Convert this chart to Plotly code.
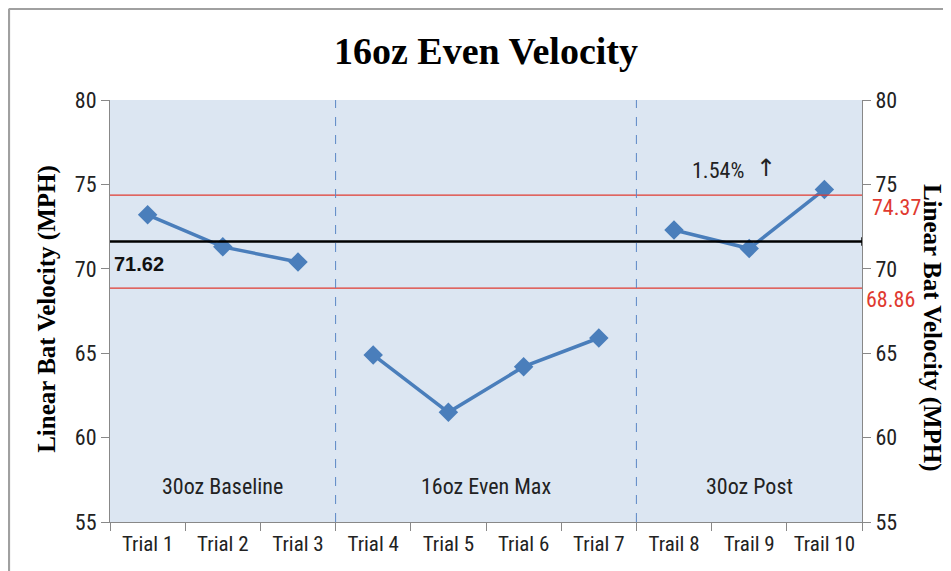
import plotly.graph_objects as go

trials = ["Trial 1", "Trial 2", "Trial 3", "Trial 4", "Trial 5", "Trial 6", "Trial 7",
          "Trail 8", "Trail 9", "Trail 10"]
velocity = [73.2, 71.3, 70.4, 64.9, 61.5, 64.2, 65.9, 72.3, 71.2, 74.7]
phase_names = ["30oz Baseline", "16oz Even Max", "30oz Post"]
phase_sizes = [3, 4, 3]
mean_value = 71.62
upper_limit = 74.37
lower_limit = 68.86
change_pct = "1.54%"

BLUE = "#4a7ebb"
RED = "#e03a30"
NARROW = "Liberation Sans Narrow, Roboto Condensed, Liberation Sans, sans-serif"
XTICKFONT = dict(family=NARROW, size=21, color="#222")
YTICKFONT = dict(family=NARROW, size=22, color="#222")

fig = go.Figure()

start = 0
phase_centers = []
boundaries = []
for size in phase_sizes:
    idx = list(range(start, start + size))
    fig.add_trace(go.Scatter(
        x=[trials[i] for i in idx], y=[velocity[i] for i in idx],
        mode="lines+markers",
        line=dict(color=BLUE, width=3.5),
        marker=dict(symbol="diamond", size=15, color=BLUE),
        showlegend=False, hoverinfo="x+y"))
    phase_centers.append(start + (size - 1) / 2)
    start += size
    boundaries.append(start - 0.5)

n = len(trials)
# mean line with cap on the right (error-bar-like)
fig.add_trace(go.Scatter(
    x=[-0.5, n - 0.5], y=[mean_value, mean_value], mode="lines",
    line=dict(color="black", width=2.5), showlegend=False, hoverinfo="skip",
    xaxis="x2"))
fig.add_trace(go.Scatter(
    x=[n - 0.5, n - 0.5], y=[mean_value - 0.25, mean_value + 0.25],
    mode="lines", line=dict(color="black", width=1.5), showlegend=False,
    hoverinfo="skip", xaxis="x2"))

for lim in (upper_limit, lower_limit):
    fig.add_trace(go.Scatter(
        x=[-0.5, n - 0.5], y=[lim, lim], mode="lines",
        line=dict(color=RED, width=1.2), showlegend=False, hoverinfo="skip",
        xaxis="x2"))

shapes = []
for b in boundaries[:-1]:
    shapes.append(dict(type="line", xref="x2", yref="paper", x0=b, x1=b, y0=0, y1=1,
                       line=dict(color="#5b87c5", width=1, dash="dash")))
# outer border
shapes.append(dict(type="line", xref="paper", yref="paper", x0=-0.1345, x1=1.2,
                   y0=1.2165, y1=1.2165, line=dict(color="#a0a0a0", width=2.5)))
shapes.append(dict(type="line", xref="paper", yref="paper", x0=-0.1345, x1=-0.1345,
                   y0=-0.2, y1=1.2165, line=dict(color="#a0a0a0", width=2.5)))

annotations = []
for name, c in zip(phase_names, phase_centers):
    annotations.append(dict(x=c, y=57.1, xref="x2", yref="y", text=name,
                            showarrow=False, font=dict(family=NARROW, size=22,
                                                       color="#222")))
annotations.append(dict(x=0, y=mean_value, xref="paper", yref="y", text="<b>71.62</b>",
                        showarrow=False, xanchor="left", yanchor="top", xshift=2, yshift=-10,
                        font=dict(family="Liberation Sans, sans-serif", size=20, color="#111")))
annotations.append(dict(x=1, y=upper_limit, xref="paper", yref="y", text=f"{upper_limit:.2f}",
                        showarrow=False, xanchor="left", yanchor="middle", xshift=8,
                        yshift=-12, font=dict(family=NARROW, size=22, color=RED)))
annotations.append(dict(x=1, y=lower_limit, xref="paper", yref="y", text=f"{lower_limit:.2f}",
                        showarrow=False, xanchor="left", yanchor="middle", xshift=2,
                        yshift=-11, font=dict(family=NARROW, size=22, color=RED)))
annotations.append(dict(x=7.585, y=75.85, xref="x2", yref="y", text=change_pct,
                        showarrow=False, xanchor="center", yanchor="middle",
                        font=dict(family=NARROW, size=22, color="#222")))
annotations.append(dict(x=8.22, y=75.95, xref="x2", yref="y", text="\u2191",
                        showarrow=False, xanchor="center", yanchor="middle",
                        font=dict(family="DejaVu Sans, sans-serif", size=24, color="#222")))
annotations.append(dict(x=-0.0838, y=0.505, xref="paper", yref="paper",
                        text="<b>Linear Bat Velocity (MPH)</b>", textangle=-90,
                        showarrow=False, xanchor="center", yanchor="middle",
                        font=dict(family="Liberation Serif, serif", size=25, color="black")))
annotations.append(dict(x=1.093, y=0.46, xref="paper", yref="paper",
                        text="<b>Linear Bat Velocity (MPH)</b>", textangle=90,
                        showarrow=False, xanchor="center", yanchor="middle",
                        font=dict(family="Liberation Serif, serif", size=25, color="black")))

fig.update_layout(
    width=943, height=563,
    margin=dict(l=102, r=89, t=92, b=49),
    paper_bgcolor="white",
    plot_bgcolor="#dce6f2",
    title=dict(text="<b>16oz Even Velocity</b>", x=0.5, xref="paper", xanchor="center",
               y=0.925, yanchor="middle",
               font=dict(family="Liberation Serif, serif", size=38, color="black")),
    xaxis=dict(type="category", categoryorder="array", categoryarray=trials,
               range=[-0.5, n - 0.5], tickson="boundaries",
               ticks="outside", ticklen=8, tickcolor="#888", showline=True,
               linecolor="#888", linewidth=1, showgrid=False, zeroline=False,
               tickfont=XTICKFONT, ticklabelstandoff=3),
    xaxis2=dict(overlaying="x", range=[-0.5, n - 0.5], visible=False),
    yaxis=dict(range=[55, 80], dtick=5, ticks="outside", ticklen=8, tickcolor="#888",
               showline=True, linecolor="#888", linewidth=1, showgrid=False,
               zeroline=False, tickfont=YTICKFONT),
    yaxis2=dict(overlaying="y", side="right", range=[55, 80], dtick=5, ticks="outside",
                ticklen=8, tickcolor="#888", showline=True, linecolor="#888",
                linewidth=1, showgrid=False, zeroline=False, tickfont=YTICKFONT),
    shapes=shapes,
    annotations=annotations,
)
# dummy trace so the right axis is drawn
fig.add_trace(go.Scatter(x=[None], y=[None], yaxis="y2", showlegend=False))

fig.write_html("out.html")
